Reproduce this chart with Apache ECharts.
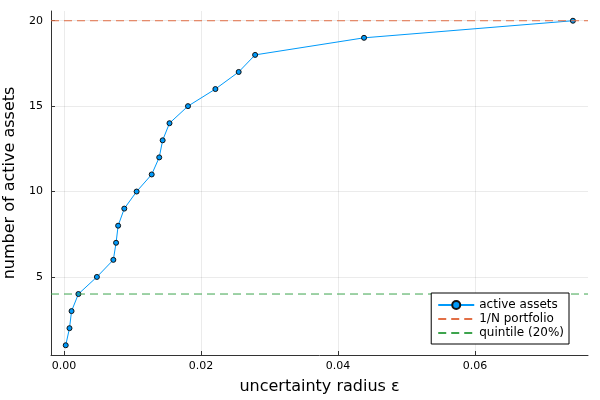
<!DOCTYPE html>
<html>
<head>
<meta charset="utf-8">
<script src="https://cdn.jsdelivr.net/npm/echarts@6/dist/echarts.min.js"></script>
<style>html,body{margin:0;padding:0;background:#fff}#c{width:600px;height:400px}</style>
</head>
<body>
<div id="c"></div>
<script>
// data
const epsilon = [0.00025, 0.0008, 0.0011, 0.0021, 0.0048, 0.0072, 0.0076, 0.0079, 0.0088, 0.0106,
                 0.0128, 0.0139, 0.0144, 0.0154, 0.0181, 0.0221, 0.0255, 0.0279, 0.0438, 0.0743];
const activeAssets = [1, 2, 3, 4, 5, 6, 7, 8, 9, 10, 11, 12, 13, 14, 15, 16, 17, 18, 19, 20];
const oneOverN = 20;
const quintile = 4;
const xLimits = [-0.0019, 0.0765];
const yLimits = [0.43, 20.57];
const seriesNames = ['active assets', '1/N portfolio', 'quintile (20%)'];

const FONT = 'DejaVu Sans';
const chart = echarts.init(document.getElementById('c'), null, {renderer: 'canvas'});
chart.setOption({
  animation: false,
  backgroundColor: '#fff',
  textStyle: {fontFamily: FONT},
  grid: {left: 51, right: 12, top: 11, bottom: 45, containLabel: false, outerBoundsMode: 'none'},
  xAxis: {
    type: 'value', min: xLimits[0], max: xLimits[1],
    name: 'uncertainty radius ε', nameLocation: 'middle', nameGap: 24,
    nameTextStyle: {fontFamily: FONT, fontSize: 16, color: '#000'},
    axisLine: {show: true, onZero: false, lineStyle: {color: '#333', width: 1}},
    axisTick: {show: true, inside: true, length: 4, lineStyle: {color: '#333'}},
    axisLabel: {fontFamily: FONT, fontSize: 11, color: '#000', margin: 6,
      showMinLabel: false, showMaxLabel: false, formatter: v => v.toFixed(2)},
    splitLine: {show: true, showMinLine: false, showMaxLine: false, lineStyle: {color: 'rgba(0,0,0,0.1)', width: 0.8}}
  },
  yAxis: {
    type: 'value', min: yLimits[0], max: yLimits[1],
    name: 'number of active assets', nameLocation: 'middle', nameGap: 32, nameRotate: 90,
    nameTextStyle: {fontFamily: FONT, fontSize: 16, color: '#000'},
    axisLine: {show: true, onZero: false, lineStyle: {color: '#333', width: 1}},
    axisTick: {show: true, inside: true, length: 4, lineStyle: {color: '#333'}},
    axisLabel: {fontFamily: FONT, fontSize: 11, color: '#000', margin: 8,
      showMinLabel: false, showMaxLabel: false, formatter: v => String(Math.round(v))},
    splitLine: {show: true, showMinLine: false, showMaxLine: false, lineStyle: {color: 'rgba(0,0,0,0.1)', width: 0.8}}
  },
  legend: {
    orient: 'vertical', right: 31, top: 293,
    backgroundColor: '#fff', borderColor: '#000', borderWidth: 1, borderRadius: 0,
    padding: [6, 5, 5, 6], itemWidth: 36, itemHeight: 10, itemGap: 2,
    textStyle: {fontFamily: FONT, fontSize: 12, color: '#000'},
    data: [
      {name: seriesNames[0]},
      {name: seriesNames[1], itemStyle: {opacity: 0}},
      {name: seriesNames[2], itemStyle: {opacity: 0}}
    ]
  },
  series: [
    {
      name: seriesNames[0], type: 'line',
      data: epsilon.map((x, i) => [x, activeAssets[i]]),
      symbol: 'circle', symbolSize: 5, showSymbol: true,
      lineStyle: {color: '#009AFA', width: 1},
      itemStyle: {color: '#009AFA', borderColor: '#111', borderWidth: 1},
      z: 2
    },
    {
      name: seriesNames[1], type: 'line',
      data: [[xLimits[0], oneOverN], [xLimits[1], oneOverN]],
      symbol: 'none', showSymbol: false,
      lineStyle: {color: '#E26F46', width: 1, type: [8, 5]},
      itemStyle: {color: '#E26F46'},
      z: 3
    },
    {
      name: seriesNames[2], type: 'line',
      data: [[xLimits[0], quintile], [xLimits[1], quintile]],
      symbol: 'none', showSymbol: false,
      lineStyle: {color: '#3DA44D', width: 1, type: [8, 5]},
      itemStyle: {color: '#3DA44D'},
      z: 3
    }
  ]
});
</script>
</body>
</html>
